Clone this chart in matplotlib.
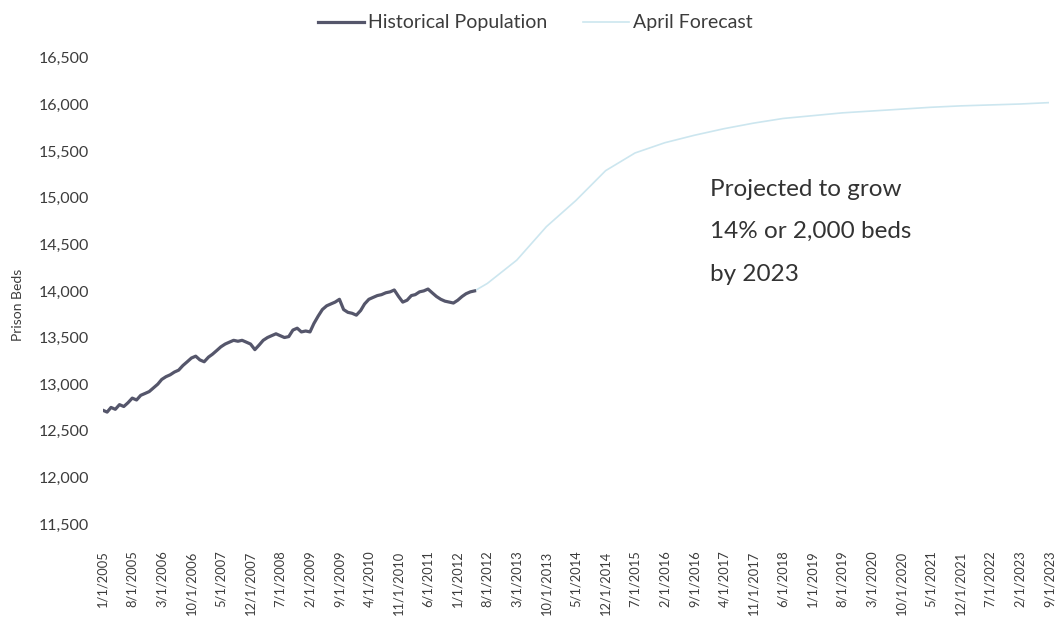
import numpy as np
import pandas as pd
import matplotlib
matplotlib.use('Agg')
import matplotlib.pyplot as plt
import matplotlib.dates as mdates

# monthly historical population, Jan 2005 - May 2012
hist_values = [
    12720, 12700, 12750, 12730, 12780, 12760, 12800, 12850, 12830, 12880,
    12900, 12920, 12960, 13000, 13050, 13080, 13100, 13130, 13150, 13200,
    13240, 13280, 13300, 13260, 13240, 13290, 13320, 13360, 13400, 13430,
    13450, 13470, 13460, 13470, 13450, 13430, 13370, 13420, 13470, 13500,
    13520, 13540, 13520, 13500, 13510, 13580, 13600, 13560, 13570, 13560,
    13650, 13730, 13800, 13840, 13860, 13880, 13910, 13800, 13770, 13760,
    13740, 13790, 13860, 13910, 13930, 13950, 13960, 13980, 13990, 14010,
    13940, 13880, 13900, 13950, 13960, 13990, 14000, 14020, 13980, 13940,
    13910, 13890, 13880, 13870, 13900, 13940, 13970, 13990, 14000,
]
hist_start = '2005-01-01'

# April forecast, read at the axis tick dates
fc_dates = ['2012-05-01', '2012-08-01', '2013-03-01', '2013-10-01', '2014-05-01',
            '2014-12-01', '2015-07-01', '2016-02-01', '2016-09-01', '2017-04-01',
            '2017-11-01', '2018-06-01', '2019-01-01', '2019-08-01', '2020-03-01',
            '2020-10-01', '2021-05-01', '2021-12-01', '2022-07-01', '2023-02-01',
            '2023-09-01']
fc_values = [14000, 14080, 14330, 14690, 14970,
             15290, 15480, 15590, 15670, 15740,
             15800, 15850, 15880, 15910, 15930,
             15950, 15970, 15985, 15995, 16005,
             16020]

tick_labels = ['1/1/2005', '8/1/2005', '3/1/2006', '10/1/2006', '5/1/2007',
               '12/1/2007', '7/1/2008', '2/1/2009', '9/1/2009', '4/1/2010',
               '11/1/2010', '6/1/2011', '1/1/2012', '8/1/2012', '3/1/2013',
               '10/1/2013', '5/1/2014', '12/1/2014', '7/1/2015', '2/1/2016',
               '9/1/2016', '4/1/2017', '11/1/2017', '6/1/2018', '1/1/2019',
               '8/1/2019', '3/1/2020', '10/1/2020', '5/1/2021', '12/1/2021',
               '7/1/2022', '2/1/2023', '9/1/2023']
y_ticks = [11500, 12000, 12500, 13000, 13500, 14000, 14500, 15000, 15500, 16000, 16500]

plt.rcParams['font.family'] = ['Lato', 'DejaVu Sans']
txt = '#3c3c3c'

hist_dates = pd.date_range(hist_start, periods=len(hist_values), freq='MS')
fc_x = pd.to_datetime(fc_dates)
tick_x = pd.to_datetime(tick_labels, format='%m/%d/%Y')

fig = plt.figure(figsize=(10.6, 6.29), dpi=100)
ax = fig.add_axes([0.097, 0.167, 0.893, 0.741])

ax.plot(fc_x, fc_values, color='#cce6ef', lw=1.2, label='April Forecast', zorder=2)
ax.plot(hist_dates, hist_values, color='#55566b', lw=2.3, label='Historical Population', zorder=3)

ax.set_xlim(tick_x[0], tick_x[-1])
ax.set_ylim(11500, 16500)
ax.set_yticks(y_ticks)
ax.set_yticklabels([f'{v:,}' for v in y_ticks], fontsize=11.5, color=txt)
ax.set_xticks(tick_x)
ax.set_xticklabels(tick_labels, rotation=90, fontsize=9.3, color=txt)
ax.tick_params(axis='y', length=0, pad=10)
ax.tick_params(axis='x', length=0, pad=19)
for s in ax.spines.values():
    s.set_visible(False)

ax.set_ylabel('Prison Beds', fontsize=10, color=txt, labelpad=10)
ax.yaxis.set_label_coords(-0.083, 0.47)

handles, labels = ax.get_legend_handles_labels()
fig.legend(handles[::-1], labels[::-1], loc='upper center', bbox_to_anchor=(0.505, 1.005),
           ncol=2, frameon=False, fontsize=14, labelcolor=txt,
           handlelength=2.4, columnspacing=1.8, handletextpad=0.2)

ax.text(pd.Timestamp('2016-12-20'), 15200,
        'Projected to grow\n14% or 2,000 beds\nby 2023',
        fontsize=17.5, color='#333333', va='top', ha='left', linespacing=2.25)

fig.savefig('out.png', dpi=100)
